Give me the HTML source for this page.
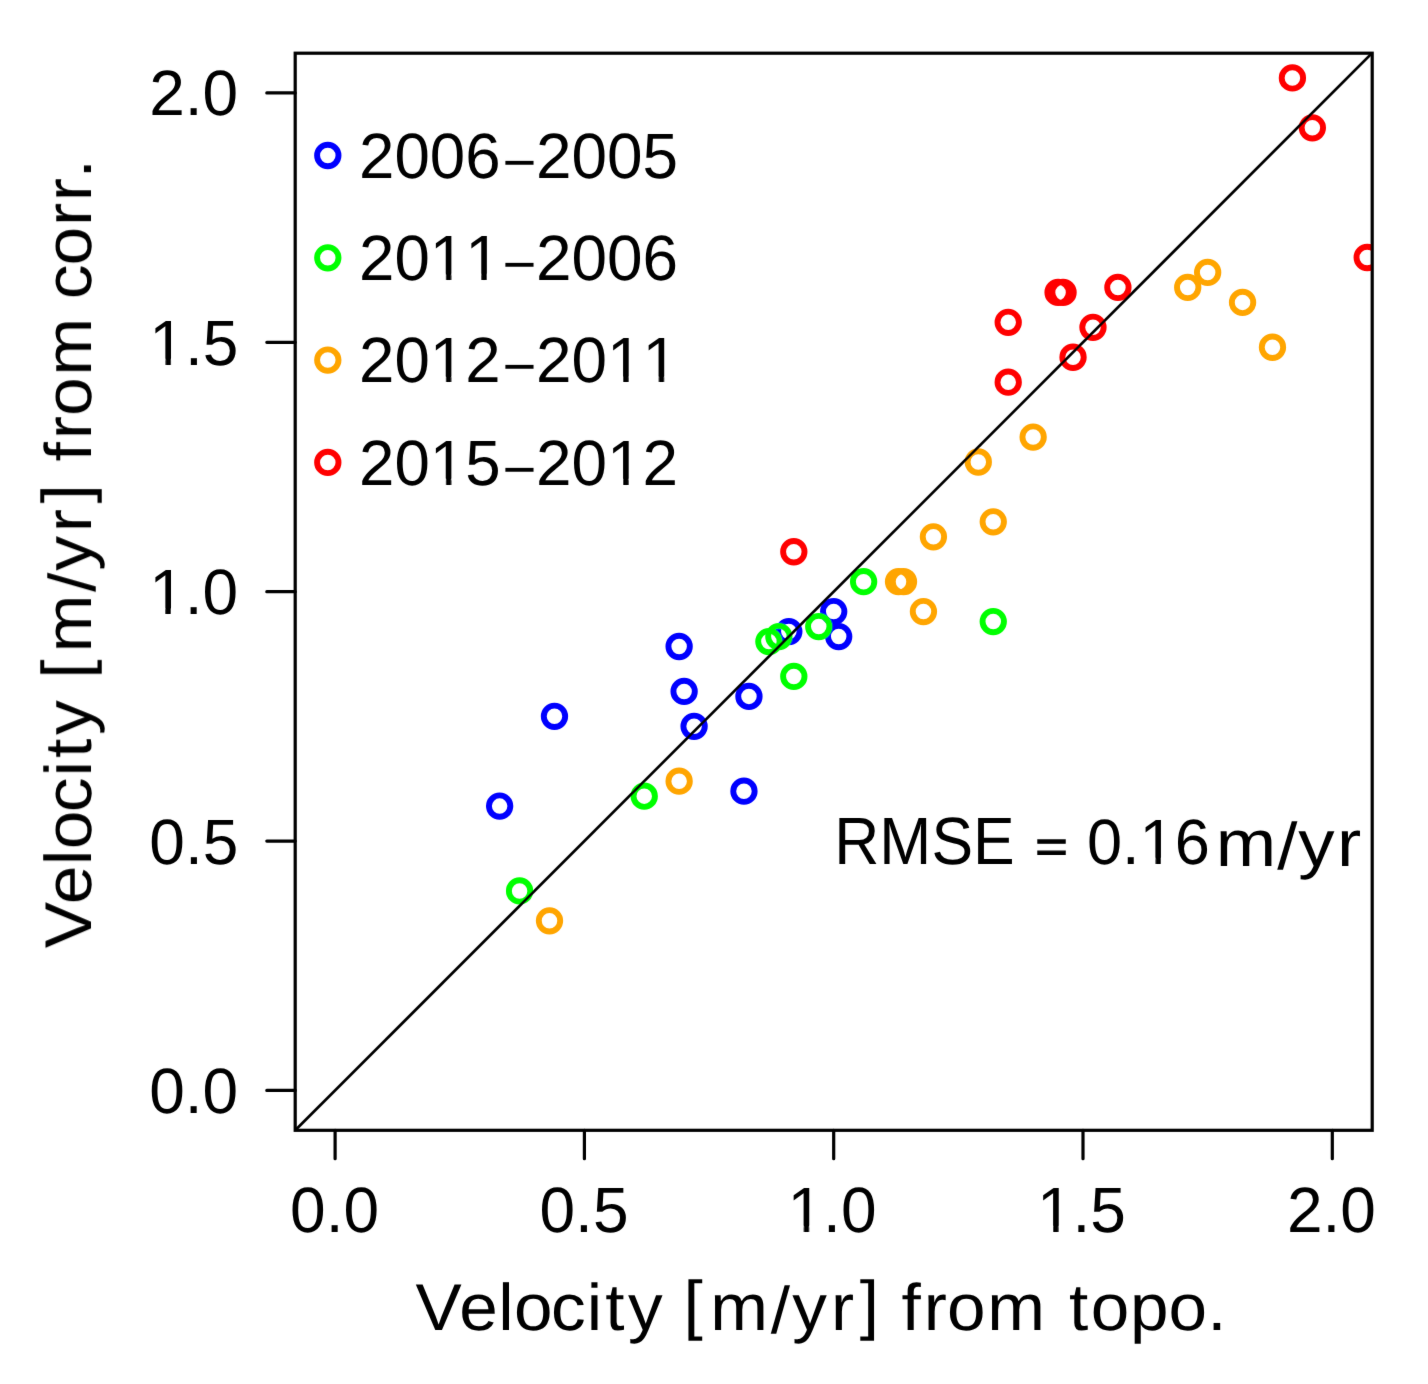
<!DOCTYPE html>
<html><head><meta charset="utf-8"><style>
html,body{margin:0;padding:0;background:#fff;width:1428px;height:1384px;overflow:hidden}
svg{display:block}
text{font-family:"Liberation Sans",sans-serif;fill:#000;text-rendering:geometricPrecision;font-kerning:none}
</style></head><body>
<svg width="1428" height="1384" viewBox="0 0 1428 1384">
<filter id="soft" x="0" y="0" width="1428" height="1384" filterUnits="userSpaceOnUse"><feConvolveMatrix order="3" kernelMatrix="0.00524 0.06192 0.00524 0.06192 0.73137 0.06192 0.00524 0.06192 0.00524" divisor="1" edgeMode="none"/></filter>
<rect width="1428" height="1384" fill="#fff"/>
<g filter="url(#soft)">
<clipPath id="c"><rect x="295.2" y="53.2" width="1077.0" height="1077.1"/></clipPath>
<g clip-path="url(#c)" fill="none" stroke-width="5.9">
<circle cx="499.64" cy="806.11" r="10.7" stroke="#0000ff"/>
<circle cx="554.48" cy="716.34" r="10.7" stroke="#0000ff"/>
<circle cx="679.13" cy="646.51" r="10.7" stroke="#0000ff"/>
<circle cx="684.12" cy="691.40" r="10.7" stroke="#0000ff"/>
<circle cx="694.09" cy="726.31" r="10.7" stroke="#0000ff"/>
<circle cx="748.94" cy="696.39" r="10.7" stroke="#0000ff"/>
<circle cx="743.95" cy="791.15" r="10.7" stroke="#0000ff"/>
<circle cx="788.83" cy="631.55" r="10.7" stroke="#0000ff"/>
<circle cx="833.70" cy="611.60" r="10.7" stroke="#0000ff"/>
<circle cx="838.69" cy="636.54" r="10.7" stroke="#0000ff"/>
<circle cx="519.58" cy="890.90" r="10.7" stroke="#00ff00"/>
<circle cx="644.23" cy="796.14" r="10.7" stroke="#00ff00"/>
<circle cx="768.88" cy="641.53" r="10.7" stroke="#00ff00"/>
<circle cx="778.85" cy="636.54" r="10.7" stroke="#00ff00"/>
<circle cx="818.74" cy="626.56" r="10.7" stroke="#00ff00"/>
<circle cx="793.81" cy="676.44" r="10.7" stroke="#00ff00"/>
<circle cx="863.62" cy="581.68" r="10.7" stroke="#00ff00"/>
<circle cx="993.25" cy="621.58" r="10.7" stroke="#00ff00"/>
<circle cx="549.50" cy="920.83" r="10.7" stroke="#ffa500"/>
<circle cx="679.13" cy="781.18" r="10.7" stroke="#ffa500"/>
<circle cx="898.52" cy="581.68" r="10.7" stroke="#ffa500"/>
<circle cx="903.50" cy="581.68" r="10.7" stroke="#ffa500"/>
<circle cx="923.45" cy="611.60" r="10.7" stroke="#ffa500"/>
<circle cx="933.42" cy="536.79" r="10.7" stroke="#ffa500"/>
<circle cx="993.25" cy="521.83" r="10.7" stroke="#ffa500"/>
<circle cx="978.29" cy="461.98" r="10.7" stroke="#ffa500"/>
<circle cx="1033.14" cy="437.04" r="10.7" stroke="#ffa500"/>
<circle cx="1187.71" cy="287.41" r="10.7" stroke="#ffa500"/>
<circle cx="1207.65" cy="272.45" r="10.7" stroke="#ffa500"/>
<circle cx="1242.55" cy="302.38" r="10.7" stroke="#ffa500"/>
<circle cx="1272.47" cy="347.26" r="10.7" stroke="#ffa500"/>
<circle cx="793.81" cy="551.75" r="10.7" stroke="#ff0000"/>
<circle cx="1008.21" cy="322.33" r="10.7" stroke="#ff0000"/>
<circle cx="1008.21" cy="382.18" r="10.7" stroke="#ff0000"/>
<circle cx="1058.07" cy="292.40" r="10.7" stroke="#ff0000"/>
<circle cx="1063.06" cy="292.40" r="10.7" stroke="#ff0000"/>
<circle cx="1092.97" cy="327.31" r="10.7" stroke="#ff0000"/>
<circle cx="1073.03" cy="357.24" r="10.7" stroke="#ff0000"/>
<circle cx="1117.90" cy="287.41" r="10.7" stroke="#ff0000"/>
<circle cx="1292.41" cy="77.94" r="10.7" stroke="#ff0000"/>
<circle cx="1312.36" cy="127.81" r="10.7" stroke="#ff0000"/>
<circle cx="1367.20" cy="257.49" r="10.7" stroke="#ff0000"/>
<line x1="285.24" y1="1140.28" x2="1382.16" y2="43.03" stroke="#000" stroke-width="2.7"/>
</g>
<rect x="295.2" y="53.2" width="1077.0" height="1077.1" fill="none" stroke="#000" stroke-width="3.2"/>
<path d="M266.8,1090.40H295.2 M335.10,1130.3V1158.7 M266.8,841.03H295.2 M584.40,1130.3V1158.7 M266.8,591.65H295.2 M833.70,1130.3V1158.7 M266.8,342.28H295.2 M1083.00,1130.3V1158.7 M266.8,92.90H295.2 M1332.30,1130.3V1158.7" stroke="#000" stroke-width="3.2" stroke-linecap="round" fill="none"/>
<text x="149.13" y="1112.90" font-size="64">0.0</text>
<text x="290.12" y="1231.80" font-size="64">0.0</text>
<text x="149.32" y="863.53" font-size="64">0.5</text>
<text x="539.51" y="1231.80" font-size="64">0.5</text>
<text x="149.13" y="614.15" font-size="64">1.0</text>
<text x="787.53" y="1231.80" font-size="64">1.0</text>
<text x="149.32" y="364.78" font-size="64">1.5</text>
<text x="1036.92" y="1231.80" font-size="64">1.5</text>
<text x="149.13" y="115.40" font-size="64">2.0</text>
<text x="1286.96" y="1231.80" font-size="64">2.0</text>
<circle cx="327.8" cy="155.50" r="10.7" stroke="#0000ff" stroke-width="5.9" fill="none"/>
<text x="359.10" y="177.70" font-size="64" textLength="141.49" lengthAdjust="spacingAndGlyphs">2006</text>
<text transform="matrix(0.5804,0,0,0.5471,502.44,180.74)" font-size="100">−</text>
<text x="535.99" y="177.70" font-size="64" textLength="142.09" lengthAdjust="spacingAndGlyphs">2005</text>
<circle cx="327.8" cy="257.80" r="10.7" stroke="#00ff00" stroke-width="5.9" fill="none"/>
<text x="359.10" y="280.00" font-size="64" textLength="141.49" lengthAdjust="spacingAndGlyphs">2011</text>
<text transform="matrix(0.5804,0,0,0.5471,502.44,283.04)" font-size="100">−</text>
<text x="535.99" y="280.00" font-size="64" textLength="142.09" lengthAdjust="spacingAndGlyphs">2006</text>
<circle cx="327.8" cy="360.10" r="10.7" stroke="#ffa500" stroke-width="5.9" fill="none"/>
<text x="359.10" y="382.30" font-size="64" textLength="141.49" lengthAdjust="spacingAndGlyphs">2012</text>
<text transform="matrix(0.5804,0,0,0.5471,502.44,385.34)" font-size="100">−</text>
<text x="535.99" y="382.30" font-size="64" textLength="142.09" lengthAdjust="spacingAndGlyphs">2011</text>
<circle cx="327.8" cy="462.40" r="10.7" stroke="#ff0000" stroke-width="5.9" fill="none"/>
<text x="359.10" y="484.60" font-size="64" textLength="141.49" lengthAdjust="spacingAndGlyphs">2015</text>
<text transform="matrix(0.5804,0,0,0.5471,502.44,487.64)" font-size="100">−</text>
<text x="535.99" y="484.60" font-size="64" textLength="142.09" lengthAdjust="spacingAndGlyphs">2012</text>
<text x="834.28" y="863.80" font-size="67" textLength="180.41" lengthAdjust="spacingAndGlyphs">RMSE</text>
<text transform="matrix(0.5572,0,0,0.45,1035.24,861.83)" font-size="100" stroke="#000" stroke-width="2.556">=</text>
<text x="1086.93" y="863.80" font-size="64" textLength="122.84" lengthAdjust="spacingAndGlyphs">0.16</text>
<rect x="153.02" y="608.77" width="12.21" height="6.38" fill="#fff"/>
<rect x="170.88" y="608.77" width="11.71" height="6.38" fill="#fff"/>
<rect x="791.42" y="1226.42" width="12.21" height="6.38" fill="#fff"/>
<rect x="809.28" y="1226.42" width="11.71" height="6.38" fill="#fff"/>
<rect x="153.21" y="359.39" width="12.21" height="6.38" fill="#fff"/>
<rect x="171.07" y="359.39" width="11.71" height="6.38" fill="#fff"/>
<rect x="1040.81" y="1226.42" width="12.21" height="6.38" fill="#fff"/>
<rect x="1058.67" y="1226.42" width="11.71" height="6.38" fill="#fff"/>
<rect x="433.71" y="274.62" width="12.14" height="6.38" fill="#fff"/>
<rect x="451.46" y="274.62" width="11.64" height="6.38" fill="#fff"/>
<rect x="469.08" y="274.62" width="12.14" height="6.38" fill="#fff"/>
<rect x="486.84" y="274.62" width="11.64" height="6.38" fill="#fff"/>
<rect x="433.71" y="376.92" width="12.14" height="6.38" fill="#fff"/>
<rect x="451.46" y="376.92" width="11.64" height="6.38" fill="#fff"/>
<rect x="610.91" y="376.92" width="12.18" height="6.38" fill="#fff"/>
<rect x="628.74" y="376.92" width="11.68" height="6.38" fill="#fff"/>
<rect x="646.44" y="376.92" width="12.18" height="6.38" fill="#fff"/>
<rect x="664.27" y="376.92" width="11.68" height="6.38" fill="#fff"/>
<rect x="433.71" y="479.22" width="12.14" height="6.38" fill="#fff"/>
<rect x="451.46" y="479.22" width="11.64" height="6.38" fill="#fff"/>
<rect x="610.91" y="479.22" width="12.18" height="6.38" fill="#fff"/>
<rect x="628.74" y="479.22" width="11.68" height="6.38" fill="#fff"/>
<rect x="1143.39" y="858.42" width="12.05" height="6.38" fill="#fff"/>
<rect x="1161.02" y="858.42" width="11.56" height="6.38" fill="#fff"/>
<text transform="scale(1.05,1)" x="395.65 437.49 474.54 489.58 524.71 558.87 576.45 598.09 608.09 650.97 676.35 734.01 754.64 791.48 818.78 828.78 858.59 879.83 901.89 940.14 950.14 1018.05 1038.87 1076.21 1112.92 1149.68" y="1329.70 1329.70 1329.70 1329.70 1329.70 1329.70 1329.70 1329.70 1329.70 1326.90 1329.70 1333.16 1329.70 1329.70 1326.90 1329.70 1329.70 1329.70 1329.70 1329.70 1329.70 1329.70 1329.70 1329.70 1329.70 1329.70" font-size="66">Velocity [m/yr] from topo.</text>
<text transform="scale(1.1,1)" x="1105.29 1161.04 1180.31 1215.55" y="865.50 869.03 865.50 865.50" font-size="66">m/yr</text>
<text transform="rotate(-90) scale(1.05,1)" x="-903.06 -861.11 -823.98 -808.86 -773.64 -739.40 -721.77 -700.05 -690.05 -646.49 -621.34 -563.89 -543.41 -506.75 -479.56 -469.56 -439.57 -418.26 -396.12 -357.74 -347.74 -284.93 -252.78 -215.18 -191.64 -169.93" y="91.05 91.05 91.05 91.05 91.05 91.05 91.05 91.05 91.05 88.36 91.05 94.62 91.05 91.05 88.36 91.05 91.05 91.05 91.05 91.05 91.05 91.05 91.05 91.05 91.05 91.05" font-size="66">Velocity [m/yr] from corr.</text>
</g>
</svg>
</body></html>
